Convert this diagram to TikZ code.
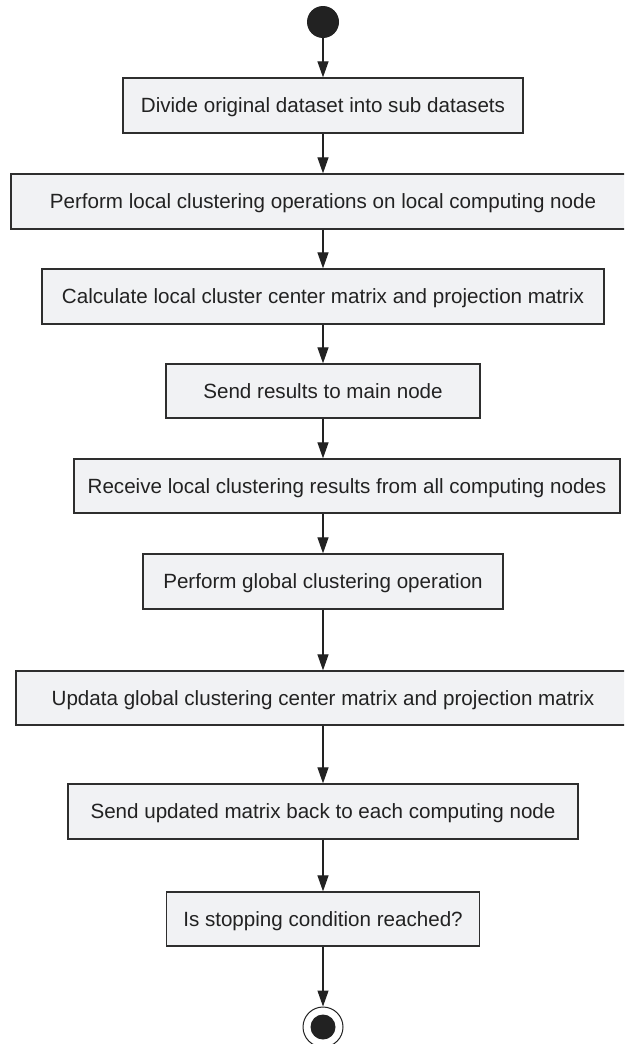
\documentclass[tikz,border=0pt]{standalone}
\usepackage{fontspec}
\setmainfont{Liberation Sans}
\usetikzlibrary{arrows.meta}
\definecolor{boxfill}{HTML}{F1F2F4}
\definecolor{boxline}{HTML}{2E2E2E}
\definecolor{txt}{HTML}{222222}
\begin{document}
\begin{tikzpicture}[x=1pt,y=-1pt,
  stepbox/.style={draw=boxline, fill=boxfill, line width=1.3pt, inner sep=0pt, text=txt,
    text height=14.5pt, text depth=0pt,
    font=\fontsize{20.6}{24}\selectfont},
  arr/.style={draw=txt, line width=1.2pt, -{Triangle[length=16pt,width=11pt]}},
  startdot/.style={circle, fill=txt, minimum size=32pt, inner sep=0pt},
  endring/.style={circle, draw=txt, line width=1pt, fill=white, minimum size=40pt, inner sep=0pt},
  enddot/.style={circle, fill=txt, minimum size=25pt, inner sep=0pt}
]
\useasboundingbox (0,0) rectangle (624,1044);
\clip (0,0) rectangle (624,1044);
\fill[white] (0,0) rectangle (624,1044);

\node[startdot] (start) at (323,22) {};
\node[stepbox, minimum width=400pt, minimum height=55pt] (b1) at (323,105.5) {Divide original dataset into sub datasets};
\node[stepbox, minimum width=624pt, minimum height=55pt] (b2) at (323,201.5) {Perform local clustering operations on local computing node};
\node[stepbox, minimum width=562pt, minimum height=55pt] (b3) at (323,296.5) {Calculate local cluster center matrix and projection matrix};
\node[stepbox, minimum width=314pt, minimum height=54pt] (b4) at (323,391) {Send results to main node};
\node[stepbox, minimum width=546pt, minimum height=54pt] (b5) at (347,486) {Receive local clustering results from all computing nodes};
\node[stepbox, minimum width=360pt, minimum height=55pt] (b6) at (323,581.5) {Perform global clustering operation};
\node[stepbox, minimum width=614pt, minimum height=54pt] (b7) at (323,698) {Updata global clustering center matrix and projection matrix};
\node[stepbox, minimum width=510pt, minimum height=55pt] (b8) at (323,811.5) {Send updated matrix back to each computing node};
\node[stepbox, minimum width=313pt, minimum height=54pt] (b9) at (323,919) {Is stopping condition reached?};
\node[endring] (endc) at (323,1027) {};
\node[enddot] (endi) at (endc.center) {};

\draw[arr] (start.south) -- (start.south |- b1.north);
\draw[arr] (b1.south) -- (b1.south |- b2.north);
\draw[arr] (b2.south) -- (b2.south |- b3.north);
\draw[arr] (b3.south) -- (b3.south |- b4.north);
\draw[arr] (b4.south) -- (b4.south |- b5.north);
\draw[arr] (b4.south |- b5.south) -- (b4.south |- b6.north);
\draw[arr] (b6.south) -- (b6.south |- b7.north);
\draw[arr] (b7.south) -- (b7.south |- b8.north);
\draw[arr] (b8.south) -- (b8.south |- b9.north);
\draw[arr] (b9.south) -- (endc.north);
\end{tikzpicture}
\end{document}
